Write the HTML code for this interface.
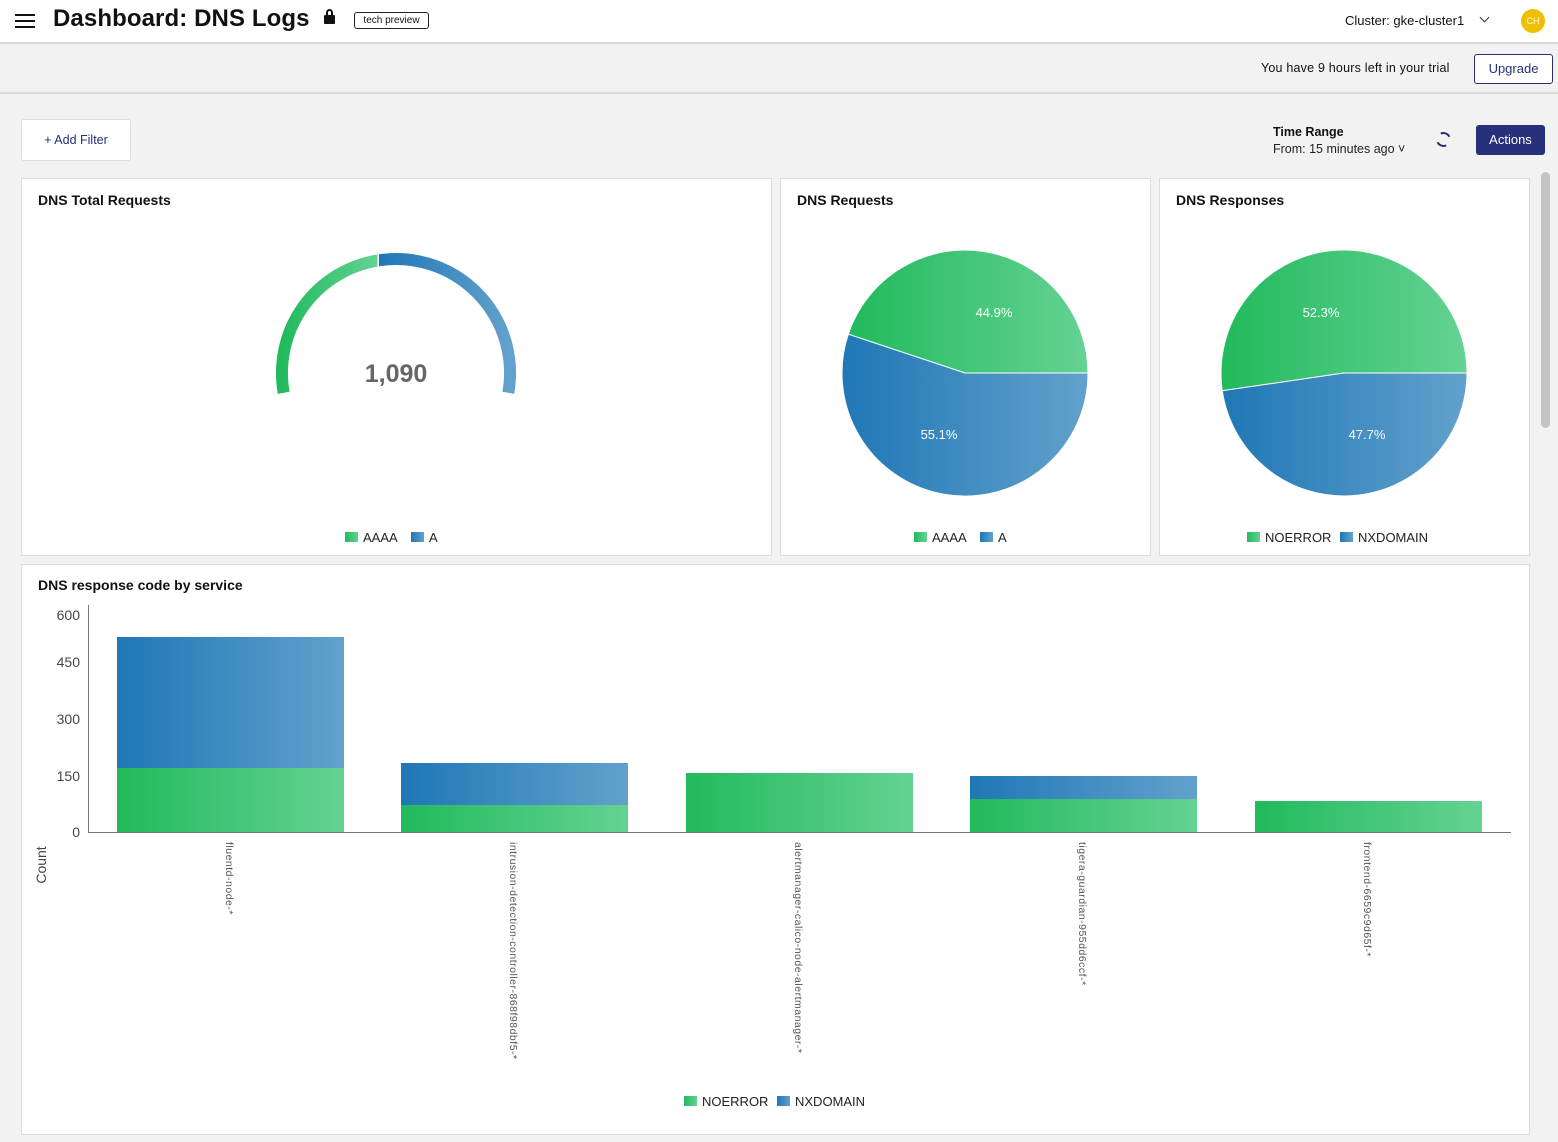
<!DOCTYPE html>
<html><head><meta charset="utf-8"><style>
*{margin:0;padding:0;box-sizing:border-box}
body{width:1558px;height:1142px;background:#f2f2f2;font-family:"Liberation Sans",sans-serif;position:relative;overflow:hidden;color:#111}
.abs{position:absolute}
.panel{position:absolute;background:#fff;border:1px solid #dcdcdc}
.ptitle{position:absolute;left:16px;top:13px;font-weight:bold;font-size:14px;color:#111}
</style></head><body>
<div class="abs" style="left:0;top:0;width:1558px;height:44px;background:#fff;border-bottom:2px solid #d9d9de"></div>
<div class="abs" style="left:15px;top:14px;width:20px;height:2px;background:#111;box-shadow:0 6px 0 #111,0 12px 0 #111"></div>
<div class="abs" style="left:53px;top:5px;font-size:24px;font-weight:bold;letter-spacing:0.1px">Dashboard: DNS Logs</div>
<div class="abs" style="left:324px;top:15px;width:11px;height:9px;background:#111;border-radius:1px"></div>
<div class="abs" style="left:326px;top:9px;width:7px;height:8px;border:2px solid #111;border-bottom:none;border-radius:4px 4px 0 0"></div>
<div class="abs" style="left:354px;top:12px;width:75px;height:17px;border:1px solid #222;border-radius:3px;font-size:10px;text-align:center;line-height:15px">tech preview</div>
<div class="abs" style="left:1345px;top:13px;font-size:13px">Cluster: gke-cluster1</div>
<div class="abs" style="left:1481px;top:14px;width:7px;height:7px;border-right:1.5px solid #333;border-bottom:1.5px solid #333;transform:rotate(45deg)"></div>
<div class="abs" style="left:1521px;top:9px;width:24px;height:24px;border-radius:50%;background:#f0c000;color:#fff;font-size:9px;text-align:center;line-height:24px">CH</div>
<div class="abs" style="left:0;top:92px;width:1558px;height:2px;background:#d9d9de"></div>
<div class="abs" style="left:1261px;top:61px;font-size:12.5px;letter-spacing:0.2px">You have 9 hours left in your trial</div>
<div class="abs" style="left:1474px;top:54px;width:79px;height:30px;border:1px solid #26307a;border-radius:3px;background:#fff;color:#26307a;font-size:13px;text-align:center;line-height:28px">Upgrade</div>
<div class="abs" style="left:21px;top:119px;width:110px;height:42px;border:1px solid #dcdcdc;border-radius:3px;background:#fff;color:#26307a;font-size:12.5px;text-align:center;line-height:40px">+ Add Filter</div>
<div class="abs" style="left:1273px;top:125px;font-size:12.5px;font-weight:bold">Time Range</div>
<div class="abs" style="left:1273px;top:142px;font-size:12.5px;color:#222">From: 15 minutes ago ˅</div>
<div class="abs" style="left:1436px;top:132px;width:15px;height:15px;border:2px solid #26307a;border-radius:50%;border-left-color:transparent;border-right-color:transparent;transform:rotate(20deg)"></div>
<div class="abs" style="left:1476px;top:125px;width:69px;height:30px;border-radius:3px;background:#26307a;color:#fff;font-size:13px;text-align:center;line-height:30px">Actions</div>
<div class="abs" style="left:1541px;top:172px;width:9px;height:256px;border-radius:5px;background:#c4c4c4"></div>
<div class="panel" style="left:21px;top:178px;width:751px;height:378px"><div class="ptitle">DNS Total Requests</div></div>
<div class="panel" style="left:780px;top:178px;width:371px;height:378px"><div class="ptitle">DNS Requests</div></div>
<div class="panel" style="left:1159px;top:178px;width:371px;height:378px"><div class="ptitle">DNS Responses</div></div>
<div class="panel" style="left:21px;top:564px;width:1509px;height:571px"><div class="ptitle" style="top:12px">DNS response code by service</div></div>
<svg class="abs" style="left:0;top:0" width="1558" height="1142" font-family="Liberation Sans, sans-serif">
<defs>
<linearGradient id="g" x1="0" x2="1"><stop offset="0" stop-color="#21ba5c"/><stop offset="1" stop-color="#65d293"/></linearGradient>
<linearGradient id="b" x1="0" x2="1"><stop offset="0" stop-color="#1f77b6"/><stop offset="1" stop-color="#62a1cc"/></linearGradient>
</defs>
<path d="M283.7,392.8 A114,114 0 0 1 378.2,260.4" fill="none" stroke="url(#g)" stroke-width="12"/>
<path d="M378.2,260.4 A114,114 0 0 1 508.3,392.8" fill="none" stroke="url(#b)" stroke-width="12"/>
<line x1="378.2" y1="253" x2="378.2" y2="267" stroke="#fff" stroke-width="1.5"/>
<text x="396" y="382" text-anchor="middle" font-size="25" font-weight="bold" fill="#666">1,090</text>
<path d="M965,373 L1088,373 A123,123 0 0 0 848.3,334.2 Z" fill="url(#g)" stroke="#fff"/>
<path d="M965,373 L848.3,334.2 A123,123 0 1 0 1088,373 Z" fill="url(#b)" stroke="#fff"/>
<text x="994" y="317" text-anchor="middle" font-size="13" fill="#fff">44.9%</text>
<text x="939" y="439" text-anchor="middle" font-size="13" fill="#fff">55.1%</text>
<path d="M1344,373 L1467,373 A123,123 0 1 0 1222.3,390.8 Z" fill="url(#g)" stroke="#fff"/>
<path d="M1344,373 L1222.3,390.8 A123,123 0 0 0 1467,373 Z" fill="url(#b)" stroke="#fff"/>
<text x="1321" y="317" text-anchor="middle" font-size="13" fill="#fff">52.3%</text>
<text x="1367" y="439" text-anchor="middle" font-size="13" fill="#fff">47.7%</text>
<g font-size="13" fill="#222">
<rect x="345" y="532" width="13" height="10" fill="url(#g)"/><text x="363" y="542">AAAA</text>
<rect x="411" y="532" width="13" height="10" fill="url(#b)"/><text x="429" y="542">A</text>
<rect x="914" y="532" width="13" height="10" fill="url(#g)"/><text x="932" y="542">AAAA</text>
<rect x="980" y="532" width="13" height="10" fill="url(#b)"/><text x="998" y="542">A</text>
<rect x="1247" y="532" width="13" height="10" fill="url(#g)"/><text x="1265" y="542">NOERROR</text>
<rect x="1340" y="532" width="13" height="10" fill="url(#b)"/><text x="1358" y="542">NXDOMAIN</text>
<rect x="684" y="1096" width="13" height="10" fill="url(#g)"/><text x="702" y="1106">NOERROR</text>
<rect x="777" y="1096" width="13" height="10" fill="url(#b)"/><text x="795" y="1106">NXDOMAIN</text>
</g>
<g font-size="14" fill="#444" text-anchor="end">
<text x="80" y="620">600</text><text x="80" y="667">450</text><text x="80" y="724">300</text><text x="80" y="781">150</text><text x="80" y="837">0</text>
</g>
<text transform="translate(46,865) rotate(-90)" text-anchor="middle" font-size="14" fill="#444">Count</text>
<rect x="117" y="637" width="227" height="131" fill="url(#b)"/><rect x="117" y="768" width="227" height="64" fill="url(#g)"/>
<rect x="401" y="763" width="227" height="42" fill="url(#b)"/><rect x="401" y="805" width="227" height="27" fill="url(#g)"/>
<rect x="686" y="773" width="227" height="59" fill="url(#g)"/>
<rect x="970" y="776" width="227" height="23" fill="url(#b)"/><rect x="970" y="799" width="227" height="33" fill="url(#g)"/>
<rect x="1255" y="801" width="227" height="31" fill="url(#g)"/>
<line x1="88.5" y1="605" x2="88.5" y2="832" stroke="#777"/>
<line x1="88" y1="832.5" x2="1511" y2="832.5" stroke="#777"/>
<g font-size="10.5" fill="#555" letter-spacing="0.5">
<text transform="translate(226,842) rotate(90)">fluentd-node-*</text>
<text transform="translate(510,842) rotate(90)">intrusion-detection-controller-868f98dbf5-*</text>
<text transform="translate(795,842) rotate(90)">alertmanager-calico-node-alertmanager-*</text>
<text transform="translate(1079,842) rotate(90)">tigera-guardian-955dd6ccf-*</text>
<text transform="translate(1364,842) rotate(90)">frontend-6659c9d65f-*</text>
</g>
</svg>
</body></html>
